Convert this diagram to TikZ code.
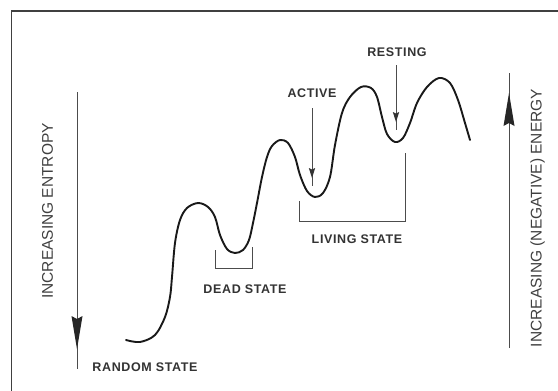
\documentclass[tikz,border=0pt]{standalone}
\usepackage{fontspec}
\setmainfont{Liberation Sans}
\newfontfamily\lblfont[LetterSpace=5]{Liberation Sans Bold}
\newfontfamily\axfont{Liberation Sans}
\begin{document}
\begin{tikzpicture}[x=1pt,y=-1pt,
  frameline/.style={draw=black!75,line width=1.3pt},
  curveline/.style={draw=black!90,line width=1.9pt,line cap=round,line join=round},
  thinline/.style={draw=black!70,line width=0.9pt},
  lbl/.style={font=\lblfont\fontsize{12.5}{13}\selectfont,text=black!80,inner sep=0pt},
  axlbl/.style={font=\axfont\fontsize{15.5}{16}\selectfont,text=black!75,inner sep=0pt,rotate=90},
  bighead/.style={fill=black!85},
  smallhead/.style={fill=black!80}]
\useasboundingbox (0,0) rectangle (558,391);
\fill[white] (0,0) rectangle (558,391);
% frame
\coordinate (fTL) at (11.5,11);
\coordinate (fTR) at (558,11);
\coordinate (fBL) at (11.5,391);
\draw[frameline] (fTR) -- (fTL) -- (fBL);
% energy landscape curve
\draw[curveline] plot[smooth,tension=0.55] coordinates {
 (126,340) (140,342) (155,335) (165,317) (170,297) (172,277) (175,243)
 (180,220) (187,208) (198,203) (208,207) (215,217) (220,235) (227,249)
 (235,253) (243,250) (249,240) (253,223) (257,203) (262,177) (267,157)
 (272,146) (280,140) (288,143) (295,157) (300,175) (307,191) (315,197)
 (323,193) (330,177) (335,145) (342,113) (350,97) (361,87) (371,88)
 (377,97) (382,117) (387,134) (395,142) (403,138) (410,123) (417,103)
 (427,87) (439,78) (450,83) (458,100) (465,123) (470,140)};
% labels
\node[lbl] (resting) at (397,52) {RESTING};
\node[lbl] (active) at (312,93) {ACTIVE};
\node[lbl] (living) at (357,239) {LIVING STATE};
\node[lbl] (dead) at (245,289) {DEAD STATE};
\node[lbl] (random) at (145,367) {RANDOM STATE};
\node[axlbl] (entropy) at (47.5,211) {INCREASING ENTROPY};
\node[axlbl] (energy) at (537.5,218) {INCREASING (NEGATIVE) ENERGY};
% small arrows to minima
\coordinate (rtop) at (396,65);
\coordinate (rtip) at (396,122);
\draw[thinline] (rtop) -- ([yshift=-8]rtip);
\fill[smallhead] (rtip) -- ++(-3.2,-10) -- ++(3.2,1.5) -- ++(3.2,-1.5) -- cycle;
\coordinate (atop) at (312,108);
\coordinate (atip) at (312,178);
\draw[thinline] (atop) -- ([yshift=-8]atip);
\fill[smallhead] (atip) -- ++(-3.2,-10) -- ++(3.2,1.5) -- ++(3.2,-1.5) -- cycle;
% brackets
\coordinate (d1) at (215,250);
\coordinate (d2) at (215,268);
\coordinate (d3) at (252,268);
\coordinate (d4) at (252,247);
\draw[thinline] (d1) -- (d2) -- (d3) -- (d4);
\coordinate (l1) at (299,201);
\coordinate (l2) at (299,221);
\coordinate (l3) at (405,221);
\coordinate (l4) at (405,153);
\draw[thinline] (l1) -- (l2) -- (l3) -- (l4);
% big axis arrows
\coordinate (etop) at (77,92);
\coordinate (etip) at (77,349);
\draw[thinline] (etop) -- ([yshift=-20]etip);
\fill[bighead] (etip) -- ++(-5.5,-33) -- ++(5.5,3) -- ++(5.5,-3) -- cycle;
\coordinate (nbot) at (509,348);
\coordinate (ntip) at (509,93);
\draw[thinline] (nbot) -- ([yshift=20]ntip);
\fill[bighead] (ntip) -- ++(-5.5,33) -- ++(5.5,-3) -- ++(5.5,3) -- cycle;
\end{tikzpicture}
\end{document}
